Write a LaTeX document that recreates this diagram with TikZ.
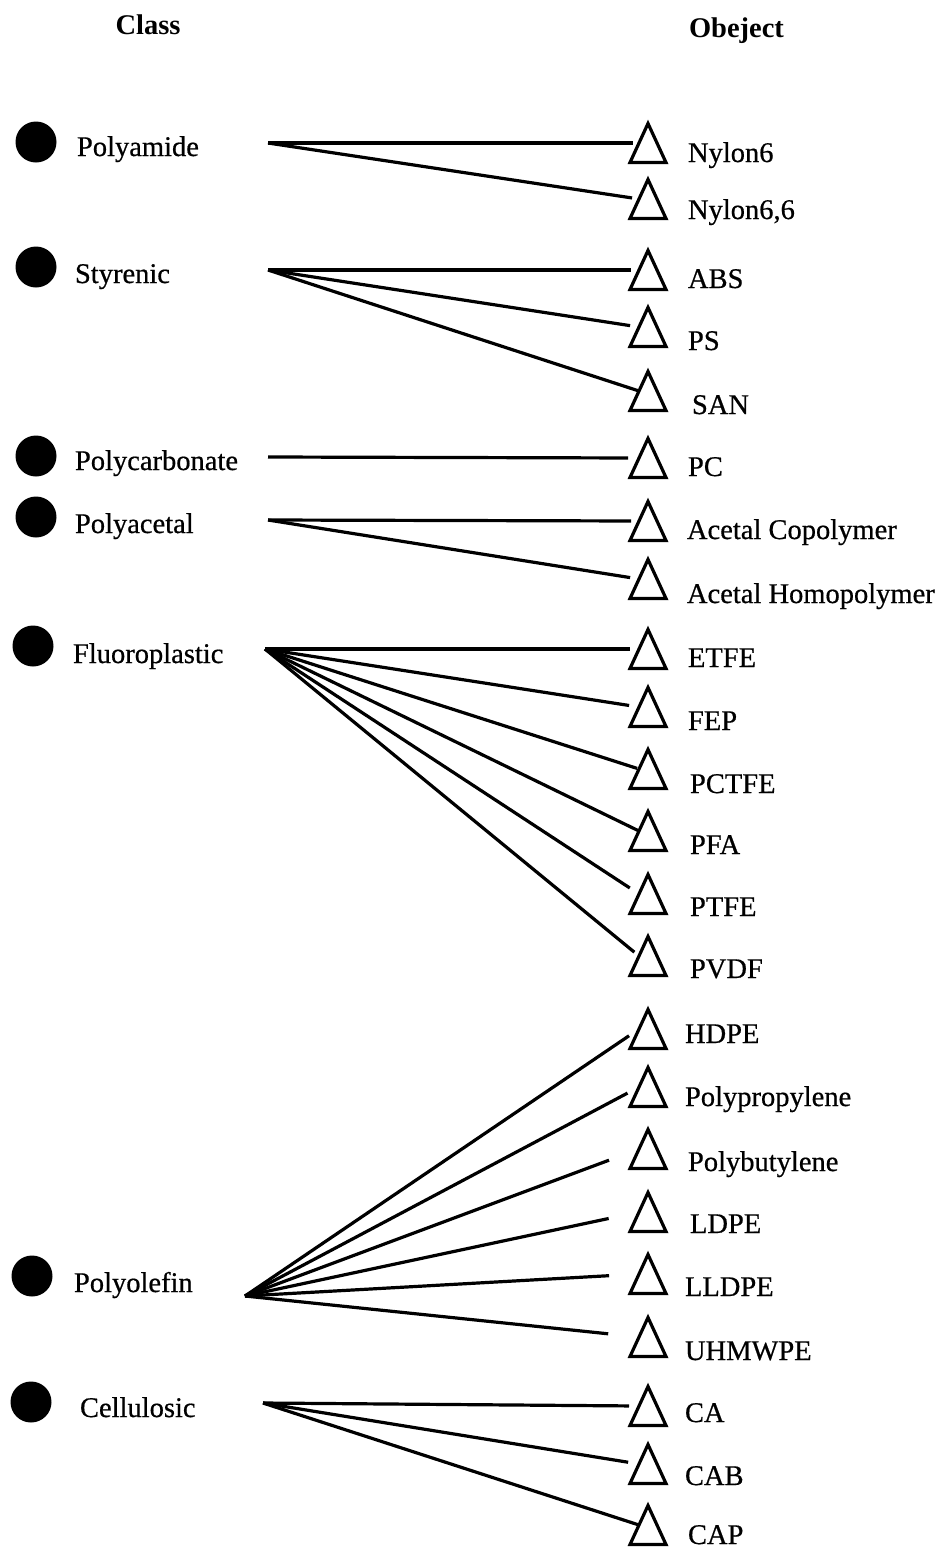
\documentclass[tikz,border=0pt]{standalone}
\usepackage{fontspec}
\setmainfont{Liberation Serif}
\newfontfamily\lblfont{Liberation Serif}[FakeBold=0.6]
\usetikzlibrary{shapes.geometric}
\begin{document}
\begin{tikzpicture}[x=1pt,y=-1pt,
  every node/.style={inner sep=0pt,outer sep=0pt},
  txt/.style={anchor=base west,font=\lblfont\fontsize{28.5}{34}\selectfont},
  head/.style={anchor=base,font=\fontsize{28.5}{34}\selectfont\bfseries},
  dot/.style={circle,fill=black,minimum width=40pt,minimum height=41pt},
  tri/.style={draw,line width=3.2pt,shape=isosceles triangle,shape border rotate=90,
    isosceles triangle stretches,minimum width=36pt,minimum height=39pt,anchor=south},
  link/.style={line width=3.2pt}]
\useasboundingbox (0,0) rectangle (943,1550);

% column headings
\node[head] (hclass) at (148,34) {Class};
\node[head,anchor=base west] (hobj) at (689,37) {Obeject};

% classes: bullet, name and the point where its connectors start
\foreach \n/\cx/\cy/\tx/\ty/\t/\hx/\hy in {
  pa/36/142/77/156/Polyamide/268/143,
  st/36/267/75/283/Styrenic/268/270,
  pcb/36/456/75/470/Polycarbonate/268/457,
  pac/36/517/75/533/Polyacetal/268/520,
  fl/33/646/73/663/Fluoroplastic/265/649,
  po/32/1276/74/1292/Polyolefin/245/1296,
  ce/31/1402/80/1417/Cellulosic/263/1403}{
  \node[dot] (\n-dot) at (\cx,\cy) {};
  \node[txt] (\n) at (\tx,\ty) {\t};
  \coordinate (hub-\n) at (\hx,\hy);
}

% objects: triangle and name
\foreach \n/\b/\tx/\ty/\t in {
  nylon6/162.5/688/162/Nylon6,
  nylon66/218.5/688/219/{Nylon6,6},
  abs/289.5/688/288/ABS,
  ps/346.5/688/350/PS,
  san/410.5/692/414/SAN,
  pc/477.5/688/476/PC,
  acco/540.5/687/539/Acetal Copolymer,
  acho/598.5/687/603/Acetal Homopolymer,
  etfe/668.5/688/667/ETFE,
  fep/726.5/688/730/FEP,
  pctfe/788.5/690/793/PCTFE,
  pfa/850.5/690/854/PFA,
  ptfe/913.5/690/916/PTFE,
  pvdf/975.5/690/978/PVDF,
  hdpe/1048.5/685/1043/HDPE,
  pp/1106.5/685/1106/Polypropylene,
  pb/1168.5/688/1171/Polybutylene,
  ldpe/1231.5/690/1233/LDPE,
  lldpe/1293.5/685/1296/LLDPE,
  uhmwpe/1356.5/685/1360/UHMWPE,
  ca/1425.5/685/1422/CA,
  cab/1483.5/685/1485/CAB,
  cap/1544.5/688/1544/CAP}{
  \node[tri] (\n-t) at (648,\b) {};
  \node[txt] (\n) at (\tx,\ty) {\t};
}

% connectors from each class to its objects
\foreach \h/\o/\s in {
  pa/nylon6/6, pa/nylon66/7,
  st/abs/8, st/ps/9, st/san/0,
  pcb/pc/11,
  pac/acco/8, pac/acho/9,
  fl/etfe/9, fl/fep/10, fl/pctfe/2, fl/pfa/1, fl/ptfe/11, fl/pvdf/6,
  po/hdpe/12, po/pp/13, po/pb/32, po/ldpe/31, po/lldpe/30, po/uhmwpe/31,
  ce/ca/10, ce/cab/11, ce/cap/1}{
  \draw[link,shorten >=\s pt] (hub-\h) -- (\o-t.left side);
}
\end{tikzpicture}
\end{document}
